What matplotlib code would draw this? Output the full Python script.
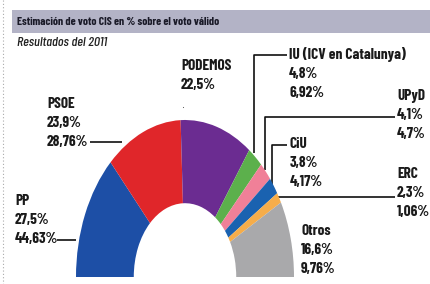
import matplotlib
matplotlib.use("Agg")
import matplotlib.pyplot as plt

# ---- data ----
parties = ["PP", "PSOE", "PODEMOS", "IU (ICV en Catalunya)", "UPyD", "CiU", "ERC", "Otros"]
estimacion = [27.5, 23.9, 22.5, 4.8, 4.1, 3.8, 2.3, 16.6]
resultados_2011 = ["44,63%", "28,76%", None, "6,92%", "4,7%", "4,17%", "1,06%", "9,76%"]
estimacion_txt = ["27,5%", "23,9%", "22,5%", "4,8%", "4,1%", "3,8%", "2,3%", "16,6%"]
colors = ["#1d4fa6", "#e0262a", "#6b2c91", "#5cb04c", "#f08098", "#1a62b0", "#f6ad4a", "#a9a9ab"]

title = "Estimación de voto CIS en % sobre el voto válido"
subtitle = "Resultados del 2011"

W, H = 430, 284
fig = plt.figure(figsize=(W / 100, H / 100), dpi=100)
fig.patch.set_facecolor("white")

# overlay axes in pixel coords
ax = fig.add_axes([0, 0, 1, 1])
ax.set_xlim(0, W)
ax.set_ylim(H, 0)
ax.axis("off")

# pie axes (half donut, stretched vertically)
cx, cy, rx, ry = 185, 277, 109, 157
pax = fig.add_axes([(cx - rx) / W, (H - cy) / H, 2 * rx / W, ry / H])
vals = estimacion + [sum(estimacion)]
wedges, _ = pax.pie(vals, startangle=180, counterclock=False,
                    colors=colors + ["none"], radius=1,
                    wedgeprops=dict(width=0.53, linewidth=0))
pax.set_aspect("auto")
pax.set_xlim(-1, 1)
pax.set_ylim(0, 1)
pax.axis("off")

# title bar
ax.add_patch(plt.Rectangle((12, 10), W - 12, 23, color="#b3b3c6", zorder=0, lw=0))
ax.plot([3, 3], [0, H], color="#aaaaaa", lw=0.8, ls=(0, (1, 2)))

fn = ["Barlow Condensed", "DejaVu Sans"]
ax.text(17, 22, title, fontsize=8.3, fontweight="bold", family=fn, color="#1a1a28",
        va="center", ha="left")
ax.text(17, 43, subtitle, fontsize=10, fontweight=500, style="italic", family=fn,
        color="#222222", va="center", ha="left")

# labels: (x, y of first line centre)
label_pos = {
    "PP": (15, 201),
    "PSOE": (47, 104),
    "PODEMOS": (181, 66),
    "IU (ICV en Catalunya)": (289, 55),
    "UPyD": (397, 96),
    "CiU": (290, 144),
    "ERC": (397, 174),
    "Otros": (301, 231),
}
step = 19
for i, p in enumerate(parties):
    x, y = label_pos[p]
    lines = [p, estimacion_txt[i]]
    if resultados_2011[i]:
        lines.append(resultados_2011[i])
    for j, t in enumerate(lines):
        ax.text(x, y + j * step, t, fontsize=11, fontweight="bold", family=fn,
                color="#1a1a1a", va="center", ha="left")

lk = dict(color="#111111", lw=1.2, solid_capstyle="butt")
# leader lines
ax.plot([57, 76], [240, 240], **lk)              # PP
ax.plot([90, 122], [142, 142], **lk)             # PSOE
ax.plot([183], [107], marker="o", ms=0.8, mew=0, color="#555555")  # PODEMOS tick
ax.plot([287, 254, 254], [55, 55, 153], **lk)    # IU
ax.plot([395, 265, 265], [117, 117, 170], **lk)  # UPyD
ax.plot([287, 272, 272], [145, 145, 186], **lk)  # CiU
ax.plot([277, 395], [197, 197], **lk)            # ERC

fig.savefig("out.png", dpi=100)
